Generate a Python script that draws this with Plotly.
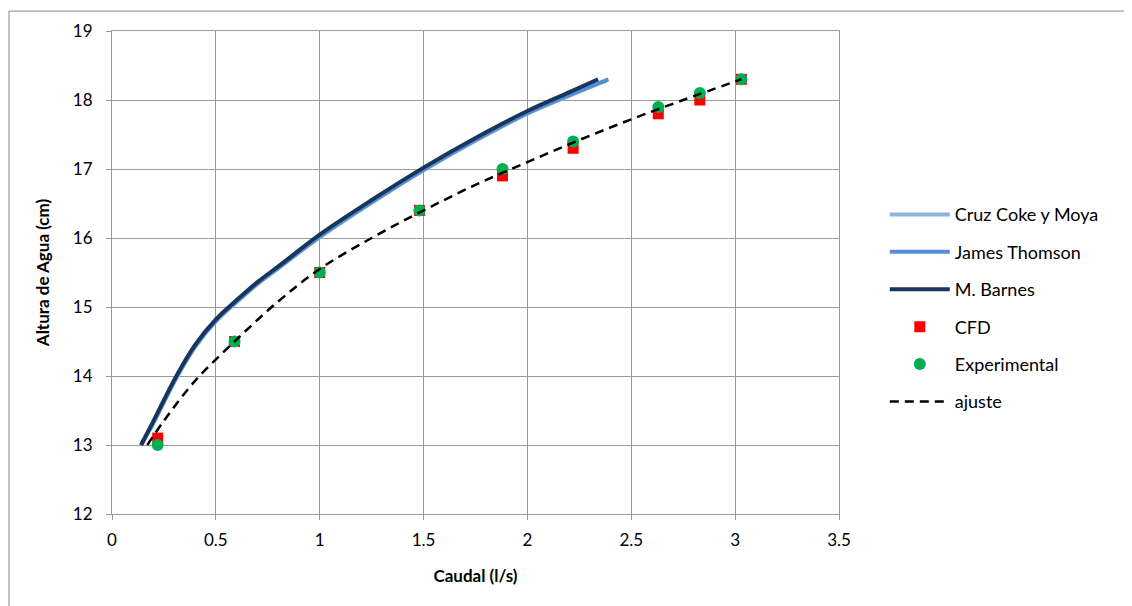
import plotly.graph_objects as go

# caudal (l/s) vs altura de agua (cm)
q_barnes = [0.14, 0.2, 0.31, 0.4, 0.5, 0.6, 0.7, 0.81, 1.0, 1.25, 1.5, 1.75, 2.0, 2.2, 2.34]
h_barnes = [13.0, 13.35, 14.0, 14.45, 14.82, 15.1, 15.36, 15.61, 16.05, 16.55, 17.02, 17.45, 17.84, 18.11, 18.3]

q_thomson = [0.14, 0.2, 0.31, 0.4, 0.5, 0.6, 0.7, 0.81, 1.0, 1.25, 1.5, 1.75, 2.0, 2.2, 2.39]
h_thomson = [13.0, 13.33, 13.98, 14.43, 14.8, 15.08, 15.34, 15.59, 16.02, 16.52, 16.99, 17.42, 17.81, 18.07, 18.3]

q_cruz = [0.14, 0.2, 0.31, 0.4, 0.5, 0.6, 0.7, 0.81, 1.0, 1.25, 1.5, 1.75, 2.0, 2.2, 2.38]
h_cruz = [13.0, 13.32, 13.97, 14.42, 14.79, 15.07, 15.33, 15.58, 16.01, 16.51, 16.98, 17.41, 17.8, 18.06, 18.28]

q_pts = [0.22, 0.59, 1.0, 1.48, 1.88, 2.22, 2.63, 2.83, 3.03]
h_cfd = [13.1, 14.5, 15.5, 16.4, 16.9, 17.3, 17.8, 18.0, 18.3]
h_exp = [13.0, 14.5, 15.5, 16.4, 17.0, 17.4, 17.9, 18.1, 18.3]

q_fit = [0.17, 0.25, 0.4, 0.59, 0.8, 1.0, 1.25, 1.5, 1.75, 2.0, 2.25, 2.5, 2.75, 3.03]
h_fit = [13.0, 13.35, 13.93, 14.5, 15.08, 15.55, 16.0, 16.4, 16.77, 17.1, 17.42, 17.72, 18.0, 18.3]

FONT = "Lato, sans-serif"
GRID = "#9a9a9a"

fig = go.Figure()

fig.add_trace(go.Scatter(x=q_cruz, y=h_cruz, mode="lines", name="Cruz Coke y Moya",
                         line=dict(color="#8EB4E3", width=4, shape="spline"), legendgroup="a"))
fig.add_trace(go.Scatter(x=q_thomson, y=h_thomson, mode="lines", name="James Thomson",
                         line=dict(color="#558ED5", width=4, shape="spline"), legendgroup="b"))
fig.add_trace(go.Scatter(x=q_barnes, y=h_barnes, mode="lines", name="M. Barnes",
                         line=dict(color="#17365D", width=4, shape="spline"), legendgroup="c"))
fig.add_trace(go.Scatter(x=q_pts, y=h_cfd, mode="markers", name="CFD",
                         marker=dict(symbol="square", color="#FF0000", size=11), legendgroup="d"))
fig.add_trace(go.Scatter(x=q_pts, y=h_exp, mode="markers", name="Experimental",
                         marker=dict(symbol="circle", color="#00B050", size=12), legendgroup="e"))
fig.add_trace(go.Scatter(x=q_fit, y=h_fit, mode="lines", name="ajuste",
                         line=dict(color="black", width=2.5, dash="9px,6px", shape="spline"),
                         legendgroup="f"))

# the page body adds 8px on the left and top, margins account for it
fig.update_layout(
    width=1132, height=606,
    margin=dict(l=104, r=301, t=21, b=100),
    paper_bgcolor="white", plot_bgcolor="white",
    font=dict(family=FONT, size=17, color="black"),
    legend=dict(x=1.063, y=0.426, xanchor="left", yanchor="middle",
                traceorder="grouped", tracegroupgap=11,
                font=dict(family=FONT, size=18), itemwidth=60),
    # outer chart border
    shapes=[dict(type="rect", xref="paper", yref="paper",
                 x0=-0.1417, x1=1.45, y0=-0.25, y1=1.0412,
                 line=dict(color="#868686", width=1))],
)

fig.update_xaxes(range=[0, 3.5], dtick=0.5, tick0=0,
                 showgrid=True, gridcolor=GRID, gridwidth=1,
                 showline=True, linecolor=GRID, mirror=True,
                 ticks="outside", ticklen=5, tickcolor=GRID,
                 zeroline=False, tickfont=dict(size=17), ticklabelstandoff=6,
                 title=dict(text="<b>Caudal (l/s)</b>", font=dict(size=17), standoff=20))
fig.update_yaxes(range=[12, 19], dtick=1, tick0=12,
                 showgrid=True, gridcolor=GRID, gridwidth=1,
                 showline=True, linecolor=GRID, mirror=True,
                 ticks="outside", ticklen=5, tickcolor=GRID,
                 zeroline=False, tickfont=dict(size=17), ticklabelstandoff=10,
                 title=dict(text="<b>Altura de Agua (cm)</b>", font=dict(size=17), standoff=18))

fig.write_html("out.html")
